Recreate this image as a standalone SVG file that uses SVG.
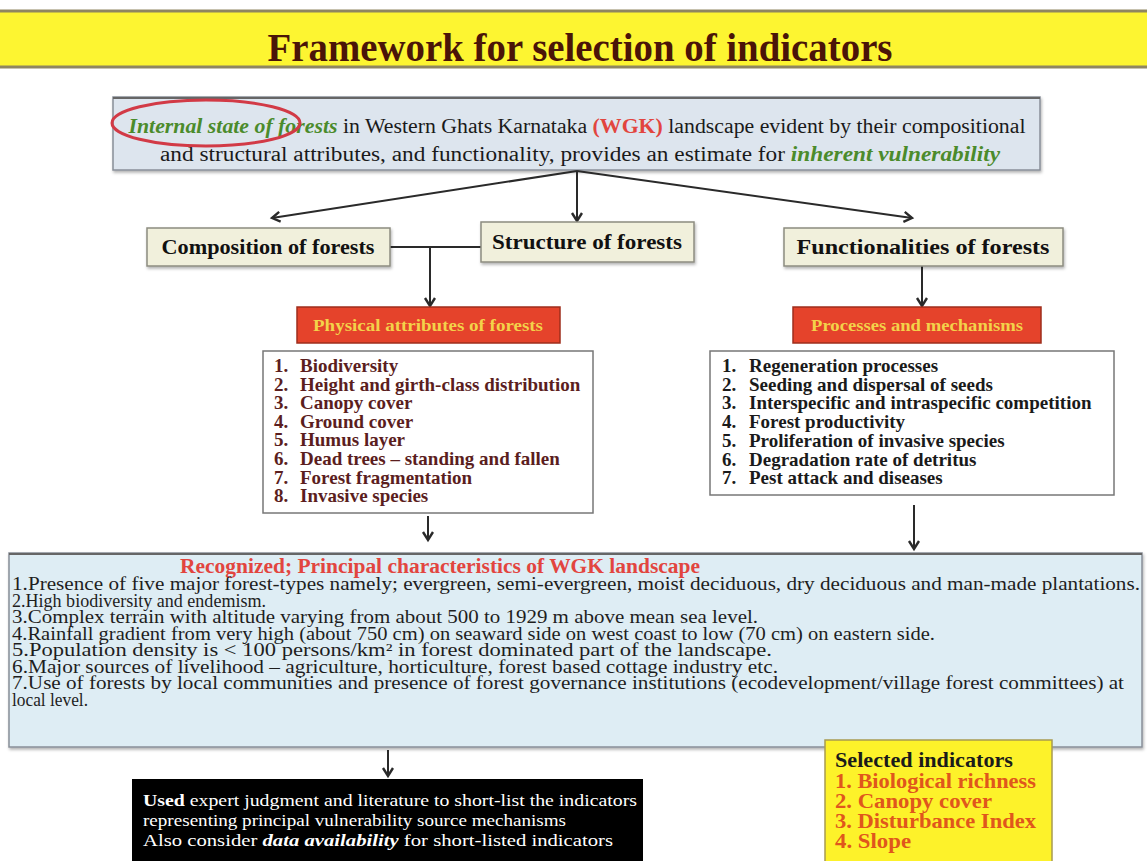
<svg xmlns="http://www.w3.org/2000/svg" width="1147" height="861" viewBox="0 0 1147 861">
<defs>
<marker id="arr" markerUnits="userSpaceOnUse" markerWidth="14" markerHeight="14" refX="10" refY="6" orient="auto">
<path d="M2,1 L10,6 L2,11" fill="none" stroke="#2a2a2a" stroke-width="2.4"/>
</marker>
<filter id="sh" x="-5%" y="-20%" width="110%" height="140%">
<feDropShadow dx="1" dy="2" stdDeviation="1.5" flood-color="#000" flood-opacity="0.3"/>
</filter>
</defs>
<style>
text{font-family:"Liberation Serif","Times New Roman",serif}
.b{font-weight:bold}
.i{font-style:italic}
.grn{fill:#4b8b2b;font-weight:bold;font-style:italic}
.red{fill:#e2453f;font-weight:bold}
.mid{fill:#f1f0dc;stroke:#8c8c80;stroke-width:1.5}
.midt{font-weight:bold;font-size:21px;fill:#111;text-anchor:middle}
.rbox{fill:#e5432b;stroke:#9e2e1c;stroke-width:1.5}
.rt{font-weight:bold;font-size:17px;fill:#f3d24a;text-anchor:middle}
.lst{fill:#fff;stroke:#777;stroke-width:1.5}
.li{font-weight:bold;font-size:19px}
.bt{font-size:18px;fill:#1e1e1e}
.wt{font-size:17.5px;fill:#fff}
.yt{font-weight:bold;font-size:21px;fill:#e0561c}
.con{stroke:#2a2a2a;stroke-width:2;fill:none}
</style>
<rect width="1147" height="861" fill="#fff"/>
<g id="title">
<rect x="0" y="10" width="1147" height="58" fill="#fdf531"/>
<line x1="0" y1="11" x2="1147" y2="11" stroke="#8f8660" stroke-width="3"/>
<line x1="0" y1="67" x2="1147" y2="67" stroke="#8f8660" stroke-width="3"/>
<text x="580" y="61" font-size="40" font-weight="bold" fill="#4a1408" text-anchor="middle" textLength="625" lengthAdjust="spacingAndGlyphs">Framework for selection of indicators</text>
</g>
<g id="internal-state">
<rect x="113" y="97" width="927" height="73" fill="#dde5ee" stroke="#888e98" stroke-width="1.5" filter="url(#sh)"/>
<line x1="113" y1="98" x2="1040" y2="98" stroke="#666" stroke-width="2"/>
<text x="577" y="133" font-size="20" text-anchor="middle" fill="#1a1a1a" textLength="897" lengthAdjust="spacingAndGlyphs"><tspan class="grn">Internal state of forests</tspan> in Western Ghats Karnataka <tspan class="red">(WGK)</tspan> landscape evident by their compositional</text>
<text x="580" y="161" font-size="20" text-anchor="middle" fill="#1a1a1a" textLength="840" lengthAdjust="spacingAndGlyphs">and structural attributes, and functionality, provides an estimate for <tspan class="grn">inherent vulnerability</tspan></text>
<ellipse cx="206" cy="123" rx="94" ry="23" fill="none" stroke="#d23a46" stroke-width="3"/>
</g>
<g id="connectors">
<line class="con" x1="577" y1="171" x2="272" y2="218" marker-end="url(#arr)"/>
<line class="con" x1="577" y1="171" x2="577" y2="221" marker-end="url(#arr)"/>
<line class="con" x1="577" y1="171" x2="912" y2="218" marker-end="url(#arr)"/>
<line class="con" x1="390" y1="247" x2="481" y2="247"/>
<line class="con" x1="430" y1="247" x2="430" y2="306" marker-end="url(#arr)"/>
<line class="con" x1="922" y1="266" x2="922" y2="306" marker-end="url(#arr)"/>
<line class="con" x1="428" y1="516" x2="428" y2="540" marker-end="url(#arr)"/>
<line class="con" x1="914" y1="505" x2="914" y2="549" marker-end="url(#arr)"/>
<line class="con" x1="388" y1="750" x2="388" y2="776" marker-end="url(#arr)"/>
</g>
<g id="composition">
<rect class="mid" x="147" y="228" width="243" height="38" filter="url(#sh)"/>
<text class="midt" x="268" y="254" textLength="213" lengthAdjust="spacingAndGlyphs">Composition of forests</text>
</g>
<g id="structure">
<rect class="mid" x="481" y="222" width="213" height="40" filter="url(#sh)"/>
<text class="midt" x="587" y="249" textLength="190" lengthAdjust="spacingAndGlyphs">Structure of forests</text>
</g>
<g id="functionalities">
<rect class="mid" x="784" y="228" width="279" height="38" filter="url(#sh)"/>
<text class="midt" x="923" y="254" textLength="253" lengthAdjust="spacingAndGlyphs">Functionalities of forests</text>
</g>
<g id="physical">
<rect class="rbox" x="297" y="307" width="263" height="36"/>
<text class="rt" x="428" y="331" textLength="230" lengthAdjust="spacingAndGlyphs">Physical attributes of forests</text>
</g>
<g id="processes">
<rect class="rbox" x="793" y="307" width="248" height="36"/>
<text class="rt" x="917" y="331" textLength="212" lengthAdjust="spacingAndGlyphs">Processes and mechanisms</text>
</g>
<g id="physical-list" fill="#5b1e1e">
<rect class="lst" x="263" y="351" width="330" height="162"/>
<g class="li">
<text x="274" y="372">1.</text><text x="300" y="372">Biodiversity</text>
<text x="274" y="390.6">2.</text><text x="300" y="390.6">Height and girth-class distribution</text>
<text x="274" y="409.2">3.</text><text x="300" y="409.2">Canopy cover</text>
<text x="274" y="427.8">4.</text><text x="300" y="427.8">Ground cover</text>
<text x="274" y="446.4">5.</text><text x="300" y="446.4">Humus layer</text>
<text x="274" y="465">6.</text><text x="300" y="465">Dead trees – standing and fallen</text>
<text x="274" y="483.6">7.</text><text x="300" y="483.6">Forest fragmentation</text>
<text x="274" y="502.2">8.</text><text x="300" y="502.2">Invasive species</text>
</g>
</g>
<g id="processes-list" fill="#1a1a1a">
<rect class="lst" x="710" y="351" width="404" height="144"/>
<g class="li">
<text x="722" y="372">1.</text><text x="749" y="372">Regeneration processes</text>
<text x="722" y="390.7">2.</text><text x="749" y="390.7">Seeding and dispersal of seeds</text>
<text x="722" y="409.4">3.</text><text x="749" y="409.4">Interspecific and intraspecific competition</text>
<text x="722" y="428.1">4.</text><text x="749" y="428.1">Forest productivity</text>
<text x="722" y="446.8">5.</text><text x="749" y="446.8">Proliferation of invasive species</text>
<text x="722" y="465.5">6.</text><text x="749" y="465.5">Degradation rate of detritus</text>
<text x="722" y="484.2">7.</text><text x="749" y="484.2">Pest attack and diseases</text>
</g>
</g>
<g id="principal-characteristics">
<rect x="9" y="553" width="1133" height="194" fill="#deedf4" stroke="#888e98" stroke-width="1.5" filter="url(#sh)"/>
<line x1="9" y1="554" x2="1142" y2="554" stroke="#666" stroke-width="2"/>
<text class="red" x="180" y="573" font-size="20" textLength="520" lengthAdjust="spacingAndGlyphs">Recognized; Principal characteristics of WGK landscape</text>
<text class="bt" x="12" y="590" textLength="1128" lengthAdjust="spacingAndGlyphs">1.Presence of five major forest-types namely; evergreen, semi-evergreen, moist deciduous, dry deciduous and man-made plantations.</text>
<text class="bt" x="12" y="606.5" textLength="254" lengthAdjust="spacingAndGlyphs">2.High biodiversity and endemism.</text>
<text class="bt" x="12" y="623" textLength="746" lengthAdjust="spacingAndGlyphs">3.Complex terrain with altitude varying from about 500 to 1929 m above mean sea level.</text>
<text class="bt" x="12" y="639.5" textLength="923" lengthAdjust="spacingAndGlyphs">4.Rainfall gradient from very high (about 750 cm) on seaward side on west coast to low (70 cm) on eastern side.</text>
<text class="bt" x="12" y="656" textLength="760" lengthAdjust="spacingAndGlyphs">5.Population density is &lt; 100 persons/km² in forest dominated part of the landscape.</text>
<text class="bt" x="12" y="672.5" textLength="766" lengthAdjust="spacingAndGlyphs">6.Major sources of livelihood – agriculture, horticulture, forest based cottage industry etc.</text>
<text class="bt" x="12" y="689" textLength="1112" lengthAdjust="spacingAndGlyphs">7.Use of forests by local communities and presence of forest governance institutions (ecodevelopment/village forest committees) at</text>
<text class="bt" x="12" y="705.5" textLength="76" lengthAdjust="spacingAndGlyphs">local level.</text>
</g>
<g id="expert-judgment">
<rect x="132" y="779" width="511" height="90" fill="#000"/>
<text class="wt" x="143" y="806" textLength="494" lengthAdjust="spacingAndGlyphs"><tspan class="b">Used</tspan> expert judgment and literature to short-list the indicators</text>
<text class="wt" x="143" y="826" textLength="423" lengthAdjust="spacingAndGlyphs">representing principal vulnerability source mechanisms</text>
<text class="wt" x="143" y="846" textLength="470" lengthAdjust="spacingAndGlyphs">Also consider <tspan class="b i">data availability</tspan> for short-listed indicators</text>
</g>
<g id="selected-indicators">
<rect x="825" y="740" width="227" height="130" fill="#fdf22a" stroke="#a89a50" stroke-width="1.5"/>
<text x="835" y="767" font-size="21" font-weight="bold" fill="#1a1a1a" textLength="178" lengthAdjust="spacingAndGlyphs">Selected indicators</text>
<text class="yt" x="835" y="788" textLength="201" lengthAdjust="spacingAndGlyphs">1. Biological richness</text>
<text class="yt" x="835" y="808" textLength="157" lengthAdjust="spacingAndGlyphs">2. Canopy cover</text>
<text class="yt" x="835" y="828" textLength="201" lengthAdjust="spacingAndGlyphs">3. Disturbance Index</text>
<text class="yt" x="835" y="848" textLength="76" lengthAdjust="spacingAndGlyphs">4. Slope</text>
</g>
</svg>
